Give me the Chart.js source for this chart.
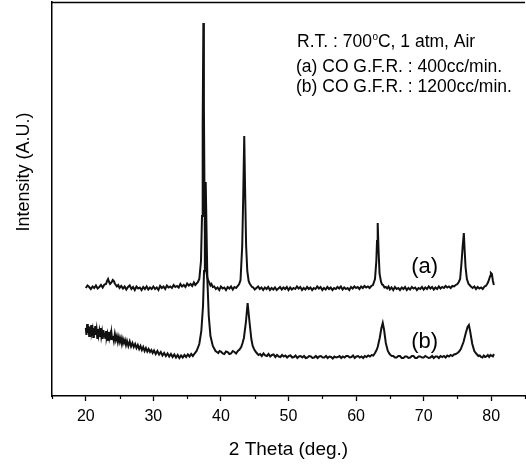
<!DOCTYPE html>
<html>
<head>
<meta charset="utf-8">
<script src="https://cdn.jsdelivr.net/npm/chart.js@4"></script>
<style>
  html, body { margin: 0; padding: 0; background: #fff; }
  #wrap { width: 526px; height: 465px; }
</style>
</head>
<body>
<div id="wrap"><canvas id="xrdChart" width="526" height="465"></canvas></div>
<script>
// [2 theta (deg.), intensity (A.U.)]
const scanA = [
    [20.0,1080],[20.25,1105],[20.5,1090],[20.75,1070],[21.0,1095],[21.25,1080],[21.5,1105],[21.75,1075],[22.0,1090],[22.25,1110],
    [22.5,1085],[22.75,1115],[23.0,1120],[23.15,1150],[23.3,1170],[23.45,1140],[23.6,1120],[23.8,1135],[24.0,1160],[24.15,1150],
    [24.3,1125],[24.6,1095],[24.8,1110],[25.0,1080],[25.25,1100],[25.5,1075],[25.75,1095],[26.0,1065],[26.25,1090],[26.5,1105],
    [26.75,1070],[27.0,1090],[27.25,1060],[27.5,1095],[27.75,1075],[28.0,1085],[28.25,1060],[28.5,1090],[28.75,1070],[29.0,1095],
    [29.25,1065],[29.5,1085],[29.75,1070],[30.0,1095],[30.25,1070],[30.5,1085],[30.75,1060],[31.0,1100],[31.25,1080],[31.5,1095],
    [31.75,1070],[32.0,1105],[32.25,1085],[32.5,1095],[32.75,1080],[33.0,1110],[33.25,1090],[33.5,1100],[33.75,1085],[34.0,1120],
    [34.25,1095],[34.5,1110],[34.75,1090],[35.0,1125],[35.25,1105],[35.5,1120],[35.75,1100],[36.0,1135],[36.2,1110],[36.4,1125],
    [36.6,1140],[36.8,1170],[37.05,1350],[37.2,1800],[37.3,2700],[37.4,3730],[37.48,2900],[37.58,1900],[37.68,1450],[37.83,1250],
    [38.0,1180],[38.15,1150],[38.3,1130],[38.45,1105],[38.6,1120],[38.8,1090],[39.0,1095],[39.25,1070],[39.5,1085],[39.75,1060],
    [40.0,1095],[40.25,1075],[40.5,1085],[40.75,1060],[41.0,1090],[41.25,1075],[41.5,1095],[41.75,1065],[42.0,1090],[42.25,1080],
    [42.5,1100],[42.7,1120],[42.9,1160],[43.15,1500],[43.3,2000],[43.45,2600],[43.58,2050],[43.73,1500],[43.9,1250],[44.1,1150],
    [44.25,1125],[44.4,1110],[44.6,1090],[44.8,1085],[45.0,1065],[45.25,1080],[45.5,1095],[45.75,1070],[46.0,1085],[46.25,1060],
    [46.5,1085],[46.75,1070],[47.0,1090],[47.25,1060],[47.5,1080],[47.75,1065],[48.0,1085],[48.25,1060],[48.5,1075],[48.75,1090],
    [49.0,1065],[49.25,1085],[49.5,1070],[49.75,1090],[50.0,1060],[50.25,1085],[50.5,1065],[50.75,1080],[51.0,1070],[51.25,1095],
    [51.5,1075],[51.75,1090],[52.0,1060],[52.25,1080],[52.5,1065],[52.75,1090],[53.0,1070],[53.25,1085],[53.5,1060],[53.75,1080],
    [54.0,1070],[54.25,1095],[54.5,1075],[54.75,1090],[55.0,1060],[55.25,1080],[55.5,1065],[55.75,1090],[56.0,1070],[56.25,1085],
    [56.5,1060],[56.75,1080],[57.0,1070],[57.25,1090],[57.5,1075],[57.75,1095],[58.0,1065],[58.25,1085],[58.5,1070],[58.75,1080],
    [59.0,1060],[59.25,1090],[59.5,1075],[59.75,1095],[60.0,1080],[60.25,1090],[60.5,1070],[60.75,1095],[61.0,1080],[61.25,1100],
    [61.5,1085],[61.75,1095],[62.0,1080],[62.25,1100],[62.5,1110],[62.8,1170],[63.0,1350],[63.1,1550],[63.2,1730],[63.33,1450],
    [63.48,1220],[63.7,1140],[63.85,1115],[64.0,1110],[64.2,1085],[64.4,1090],[64.6,1075],[64.8,1095],[65.0,1065],[65.25,1085],
    [65.5,1060],[65.75,1090],[66.0,1070],[66.25,1080],[66.5,1060],[66.75,1085],[67.0,1070],[67.25,1090],[67.5,1060],[67.75,1080],
    [68.0,1065],[68.25,1090],[68.5,1075],[68.75,1085],[69.0,1060],[69.25,1080],[69.5,1070],[69.75,1090],[70.0,1065],[70.25,1085],
    [70.5,1070],[70.75,1095],[71.0,1075],[71.25,1090],[71.5,1065],[71.75,1085],[72.0,1070],[72.25,1095],[72.5,1075],[72.75,1090],
    [73.0,1080],[73.25,1100],[73.5,1085],[73.75,1095],[74.0,1080],[74.25,1100],[74.5,1095],[74.75,1110],[75.0,1120],[75.2,1140],
    [75.4,1170],[75.6,1330],[75.78,1500],[75.95,1630],[76.05,1480],[76.2,1290],[76.4,1170],[76.65,1120],[76.8,1110],[77.0,1095],
    [77.25,1080],[77.5,1095],[77.75,1070],[78.0,1090],[78.25,1075],[78.5,1085],[78.75,1070],[79.0,1095],[79.2,1100],[79.4,1120],
    [79.55,1140],[79.7,1170],[79.85,1200],[79.95,1230],[80.1,1220],[80.25,1150],[80.4,1110]
];

const scanB = [
    [20.0,680],[20.1,610],[20.2,720],[20.3,630],[20.4,700],[20.5,600],[20.6,690],[20.7,620],[20.8,710],[20.9,640],
    [21.0,670],[21.1,590],[21.2,680],[21.3,620],[21.4,700],[21.5,610],[21.6,660],[21.7,580],[21.8,670],[21.9,610],
    [22.0,650],[22.1,590],[22.2,680],[22.3,600],[22.4,640],[22.5,570],[22.6,660],[22.7,600],[22.8,630],[22.9,570],
    [23.0,650],[23.1,590],[23.2,620],[23.3,560],[23.4,640],[23.5,580],[23.6,610],[23.7,560],[23.8,630],[23.9,570],
    [24.0,600],[24.15,550],[24.3,620],[24.45,560],[24.6,600],[24.75,540],[24.9,590],[25.05,540],[25.2,580],[25.35,520],
    [25.5,570],[25.65,530],[25.8,560],[25.95,510],[26.1,550],[26.3,500],[26.5,545],[26.7,495],[26.9,530],[27.1,490],
    [27.3,520],[27.5,480],[27.7,510],[27.9,470],[28.1,500],[28.3,460],[28.5,490],[28.7,450],[28.9,480],[29.1,445],
    [29.3,470],[29.5,440],[29.7,460],[29.9,430],[30.1,455],[30.35,420],[30.6,450],[30.85,415],[31.1,440],[31.35,405],
    [31.6,430],[31.85,400],[32.1,425],[32.35,395],[32.6,420],[32.85,390],[33.1,415],[33.35,385],[33.6,410],[33.85,380],
    [34.1,405],[34.35,385],[34.6,410],[34.85,390],[35.1,415],[35.35,395],[35.6,420],[35.85,400],[36.1,425],[36.4,450],
    [36.8,520],[37.1,650],[37.35,900],[37.5,1250],[37.62,1700],[37.75,2140],[37.87,1650],[38.0,1150],[38.2,800],[38.45,600],
    [38.8,500],[39.0,475],[39.2,450],[39.4,440],[39.6,430],[39.8,450],[40.0,445],[40.25,425],[40.5,420],[40.75,445],
    [41.0,440],[41.25,420],[41.5,425],[41.75,450],[42.0,440],[42.25,425],[42.5,450],[42.75,465],[43.0,490],[43.2,530],
    [43.4,580],[43.7,740],[43.95,930],[44.2,760],[44.5,570],[44.7,500],[44.9,470],[45.1,445],[45.3,430],[45.55,410],
    [45.8,420],[46.05,400],[46.3,425],[46.55,405],[46.8,400],[47.05,420],[47.3,395],[47.55,410],[47.8,415],[48.05,390],
    [48.3,410],[48.55,395],[48.8,390],[49.05,410],[49.3,395],[49.55,405],[49.8,385],[50.05,400],[50.3,405],[50.55,385],
    [50.8,390],[51.05,405],[51.3,380],[51.55,395],[51.8,400],[52.05,385],[52.3,400],[52.55,380],[52.8,385],[53.05,400],
    [53.3,395],[53.55,380],[53.8,385],[54.05,400],[54.3,380],[54.55,395],[54.8,400],[55.05,385],[55.3,385],[55.55,400],
    [55.8,380],[56.05,395],[56.3,390],[56.55,375],[56.8,395],[57.05,385],[57.3,390],[57.55,400],[57.8,380],[58.05,395],
    [58.3,385],[58.55,400],[58.8,400],[59.05,385],[59.3,390],[59.55,405],[59.8,380],[60.05,395],[60.3,400],[60.55,385],
    [60.8,395],[61.05,380],[61.3,400],[61.55,390],[61.8,405],[62.05,395],[62.3,410],[62.55,405],[62.8,430],[63.0,455],
    [63.2,490],[63.5,580],[63.75,680],[63.95,730],[64.15,660],[64.4,530],[64.7,450],[64.9,425],[65.1,410],[65.3,400],
    [65.5,400],[65.75,385],[66.0,385],[66.25,400],[66.5,400],[66.75,380],[67.0,380],[67.25,395],[67.5,395],[67.75,380],
    [68.0,385],[68.25,400],[68.5,400],[68.75,380],[69.0,380],[69.25,395],[69.5,395],[69.75,385],[70.0,385],[70.25,400],
    [70.5,390],[70.75,380],[71.0,385],[71.25,400],[71.5,380],[71.75,395],[72.0,395],[72.25,380],[72.5,400],[72.75,390],
    [73.0,400],[73.25,385],[73.5,405],[73.75,395],[74.0,410],[74.25,400],[74.5,415],[74.75,420],[75.0,430],[75.25,445],
    [75.5,470],[75.9,540],[76.2,620],[76.5,690],[76.7,710],[76.9,640],[77.2,520],[77.5,450],[77.7,430],[77.9,415],
    [78.1,400],[78.3,405],[78.5,390],[78.7,385],[78.9,405],[79.1,390],[79.3,395],[79.5,410],[79.7,390],[79.9,410],
    [80.1,400],[80.25,395],[80.4,420]
];

const majorTicks = [20, 30, 40, 50, 60, 70, 80];
const minorTicks = [15, 25, 35, 45, 55, 65, 75, 85];

const noteLines = ['R.T. : 700', '(a) CO G.F.R. : 400cc/min.', '(b) CO G.F.R. : 1200cc/min.'];
const curveLabels = [
    { text: '(a)', x: 70.15, y: 1290 },
    { text: '(b)', x: 70.15, y: 540 }
];

const FONT = '"Liberation Sans", Arial, Helvetica, sans-serif';

function toPoints(scan) {
    return scan.map(p => ({ x: p[0], y: p[1] }));
}

// extra drawing: top frame line, minor ticks, y title, notes, curve labels
const extrasPlugin = {
    id: 'extras',
    afterDraw(chart) {
        const ctx = chart.ctx;
        const area = chart.chartArea;
        const xs = chart.scales.x;
        const ys = chart.scales.y;
        ctx.save();
        ctx.strokeStyle = '#000';
        ctx.fillStyle = '#000';

        // top frame line
        ctx.lineWidth = 1.5;
        ctx.beginPath();
        ctx.moveTo(area.left, area.top + 0.5);
        ctx.lineTo(area.right, area.top + 0.5);
        ctx.stroke();

        // minor ticks
        ctx.lineWidth = 1.2;
        minorTicks.forEach(v => {
            const px = Math.round(xs.getPixelForValue(v)) + 0.5;
            ctx.beginPath();
            ctx.moveTo(px, area.bottom);
            ctx.lineTo(px, area.bottom + 3);
            ctx.stroke();
        });

        // y axis title
        ctx.save();
        ctx.translate(24, 172);
        ctx.rotate(-Math.PI / 2);
        ctx.font = '18px ' + FONT;
        ctx.textAlign = 'center';
        ctx.textBaseline = 'middle';
        ctx.fillText('Intensity (A.U.)', 0, 0);
        ctx.restore();

        // notes
        ctx.font = '17.5px ' + FONT;
        ctx.textAlign = 'left';
        ctx.textBaseline = 'alphabetic';
        const nx = 296;
        ctx.fillText(noteLines[0], nx + 1, 47);
        const w = ctx.measureText(noteLines[0]).width;
        ctx.font = '10px ' + FONT;
        ctx.fillText('o', nx + 1 + w + 0.5, 40);
        const w2 = ctx.measureText('o').width;
        ctx.font = '17.5px ' + FONT;
        ctx.fillText('C, 1 atm, Air', nx + 1 + w + w2 + 0.5, 47);
        ctx.fillText(noteLines[1], nx, 72);
        ctx.fillText(noteLines[2], nx, 92);

        // curve labels
        ctx.font = '22px ' + FONT;
        ctx.textAlign = 'center';
        ctx.textBaseline = 'middle';
        curveLabels.forEach(l => {
            ctx.fillText(l.text, xs.getPixelForValue(l.x), ys.getPixelForValue(l.y));
        });
        ctx.restore();
    }
};

const chart = new Chart(document.getElementById('xrdChart'), {
    type: 'line',
    data: {
        datasets: [
            {
                label: '(a)',
                data: toPoints(scanA),
                borderColor: '#111',
                borderWidth: 2,
                pointRadius: 0,
                tension: 0,
                fill: false
            },
            {
                label: '(b)',
                data: toPoints(scanB),
                borderColor: '#111',
                borderWidth: 2,
                pointRadius: 0,
                tension: 0,
                fill: false
            }
        ]
    },
    options: {
        responsive: false,
        animation: false,
        devicePixelRatio: 1,
        layout: { padding: { left: 0, right: 1, top: 2, bottom: 0 } },
        plugins: {
            legend: { display: false },
            tooltip: { enabled: false }
        },
        scales: {
            x: {
                type: 'linear',
                min: 15,
                max: 85,
                afterBuildTicks: scale => {
                    scale.ticks = majorTicks.map(v => ({ value: v }));
                },
                afterFit: scale => { scale.height = 69; },
                grid: {
                    drawOnChartArea: false,
                    drawTicks: true,
                    tickLength: 5,
                    tickColor: '#000',
                    tickWidth: 1.3
                },
                border: { display: true, color: '#000', width: 1.5 },
                ticks: {
                    color: '#000',
                    font: { family: FONT, size: 16 },
                    padding: 6,
                    maxRotation: 0
                },
                title: {
                    display: true,
                    text: '2 Theta (deg.)',
                    color: '#000',
                    font: { family: FONT, size: 19 },
                    padding: { top: 8 }
                }
            },
            y: {
                type: 'linear',
                min: 0,
                max: 3940,
                afterFit: scale => { scale.width = 52; },
                grid: { display: false },
                border: { display: true, color: '#000', width: 1.5 },
                ticks: { display: false }
            }
        }
    },
    plugins: [extrasPlugin]
});
</script>
</body>
</html>
